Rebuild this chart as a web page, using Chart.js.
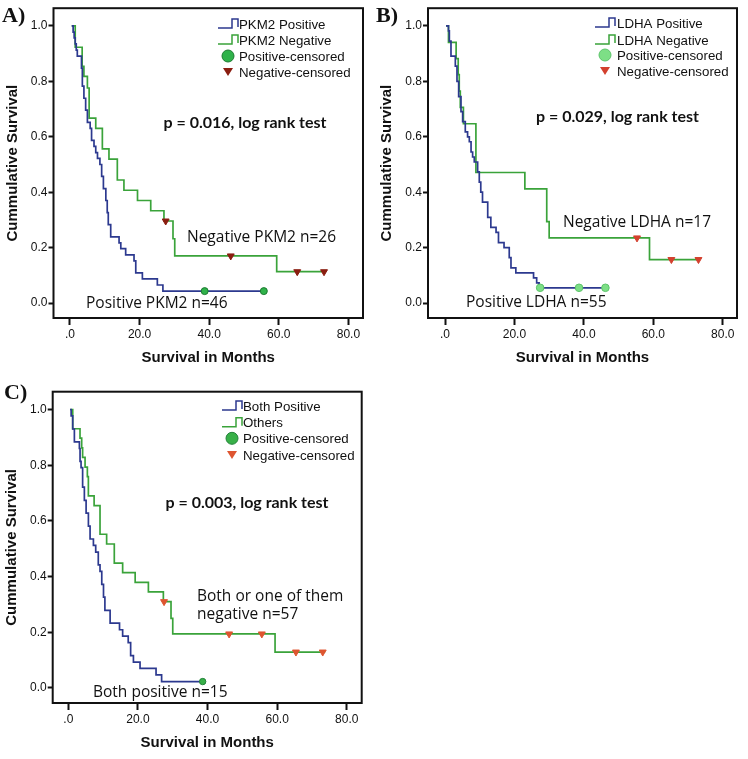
<!DOCTYPE html>
<html>
<head>
<meta charset="utf-8">
<script src="https://cdn.jsdelivr.net/npm/chart.js@4.4.0/dist/chart.umd.min.js"></script>
<style>
    body { margin: 0; background: #fff; }
    #wrap { position: relative; width: 748px; height: 759px; overflow: hidden; }
    canvas { position: absolute; }
    .tag { position: absolute; font: bold 22px "Liberation Serif", "Times New Roman", serif; color: #111; line-height: 24px; }
</style>
</head>
<body>
<div id="wrap">
    <canvas id="chartA" width="370" height="370" style="left:0;top:0"></canvas>
    <canvas id="chartB" width="378" height="370" style="left:370px;top:0"></canvas>
    <canvas id="chartC" width="370" height="389" style="left:0;top:370px"></canvas>
    <div class="tag" style="left:2px;top:3px">A)</div>
    <div class="tag" style="left:376px;top:3px">B)</div>
    <div class="tag" style="left:4px;top:380px">C)</div>
</div>

<script>
// ======================================================
// Data
// ======================================================

const monthTicks = [0, 20, 40, 60, 80];
const survivalTicks = [0, 0.2, 0.4, 0.6, 0.8, 1.0];

// A) PKM2
const pkm2PosMonths = [0.5, 0.9, 1.2, 1.5, 1.8, 2.1, 3.3, 3.55, 4.0, 4.5, 5.0, 5.8, 6.2, 6.9, 7.4, 7.9, 8.6, 9.1, 9.6, 10.3, 10.7, 11.0, 11.7, 14.1, 14.6, 16.0, 18.4, 18.9, 20.8, 25.1, 26.7, 55.7];
const pkm2PosSurvival = [1.0, 0.978, 0.957, 0.935, 0.913, 0.891, 0.848, 0.783, 0.739, 0.696, 0.652, 0.630, 0.587, 0.565, 0.543, 0.522, 0.500, 0.457, 0.413, 0.370, 0.326, 0.283, 0.239, 0.217, 0.196, 0.174, 0.152, 0.109, 0.087, 0.065, 0.043, 0.043];
const pkm2NegMonths = [0.5, 1.5, 3.5, 4.0, 5.0, 5.5, 7.4, 9.3, 11.2, 13.6, 15.5, 19.4, 23.2, 27.0, 29.6, 30.1, 59.4, 73.5];
const pkm2NegSurvival = [1.0, 0.923, 0.854, 0.818, 0.776, 0.667, 0.630, 0.556, 0.519, 0.444, 0.407, 0.370, 0.333, 0.296, 0.232, 0.170, 0.113, 0.113];
const pkm2PosCensMonths = [38.7, 55.7];
const pkm2PosCensSurvival = [0.043, 0.043];
const pkm2NegCensMonths = [27.5, 46.2, 65.3, 73.0];
const pkm2NegCensSurvival = [0.296, 0.170, 0.113, 0.113];

// B) LDHA
const ldhaPosMonths = [0.3, 1.0, 1.25, 1.72, 2.97, 3.45, 3.93, 4.6, 5.08, 5.84, 6.5, 7.0, 7.5, 7.95, 8.43, 9.4, 9.87, 10.3, 10.8, 12.3, 13.2, 14.7, 15.4, 17.0, 18.5, 19.0, 20.4, 25.5, 26.4, 27.1, 46.2];
const ldhaPosSurvival = [1.0, 0.982, 0.945, 0.891, 0.855, 0.800, 0.745, 0.691, 0.655, 0.618, 0.600, 0.582, 0.545, 0.527, 0.509, 0.473, 0.436, 0.400, 0.364, 0.309, 0.273, 0.255, 0.218, 0.200, 0.164, 0.127, 0.109, 0.091, 0.073, 0.055, 0.055];
const ldhaNegMonths = [0.3, 1.0, 3.2, 3.8, 4.1, 4.4, 5.3, 8.9, 23.0, 29.3, 30.0, 58.9, 73.0];
const ldhaNegSurvival = [1.0, 0.941, 0.882, 0.824, 0.765, 0.706, 0.647, 0.471, 0.412, 0.294, 0.235, 0.157, 0.157];
const ldhaPosCensMonths = [27.4, 38.6, 46.2];
const ldhaPosCensSurvival = [0.055, 0.055, 0.055];
const ldhaNegCensMonths = [55.3, 65.2, 73.0];
const ldhaNegCensSurvival = [0.235, 0.157, 0.157];

// C) Both positive vs others
const bothPosMonths = [0.5, 0.8, 1.25, 1.73, 3.17, 3.36, 3.65, 4.1, 4.6, 5.1, 5.76, 6.24, 7.2, 7.86, 8.6, 9.1, 9.6, 10.1, 10.5, 12.0, 14.7, 15.6, 17.2, 17.9, 18.7, 20.6, 25.2, 26.8, 38.6];
const bothPosSurvival = [1.0, 0.977, 0.930, 0.884, 0.860, 0.814, 0.791, 0.721, 0.674, 0.628, 0.581, 0.535, 0.512, 0.488, 0.442, 0.419, 0.372, 0.326, 0.279, 0.233, 0.209, 0.186, 0.163, 0.116, 0.093, 0.070, 0.047, 0.023, 0.023];
const othersMonths = [0.5, 1.25, 3.35, 3.83, 4.1, 4.8, 5.46, 5.75, 7.4, 9.1, 11.0, 13.2, 15.6, 19.2, 23.0, 27.3, 29.5, 30.0, 59.4, 73.8];
const othersSurvival = [1.0, 0.931, 0.897, 0.862, 0.828, 0.793, 0.759, 0.690, 0.655, 0.552, 0.517, 0.448, 0.414, 0.379, 0.345, 0.310, 0.250, 0.194, 0.129, 0.129];
const bothPosCensMonths = [38.6];
const bothPosCensSurvival = [0.023];
const othersCensMonths = [27.5, 46.2, 55.6, 65.4, 73.1];
const othersCensSurvival = [0.310, 0.194, 0.194, 0.129, 0.129];


// ======================================================
// Helpers
// ======================================================

const ink = "#111";
const blueLine = "#2c398f";
const greenLine = "#3aa33a";
const sans = "'Liberation Sans', Arial, sans-serif";

Chart.defaults.font.family = sans;
Chart.defaults.color = ink;

function toPoints(xs, ys) {
    return xs.map((x, i) => ({ x: x, y: ys[i] }));
}

// box around the plot, legend and text notes
const panelDecor = {

    id: "panelDecor",

    afterDraw(chart, args, opts) {

        const ctx = chart.ctx;
        const area = chart.chartArea;

        ctx.save();

        ctx.strokeStyle = ink;
        ctx.lineWidth = 2;
        ctx.strokeRect(area.left, area.top, area.right - area.left, area.bottom - area.top);

        //-----------------------------------------------------
        // Legend
        //-----------------------------------------------------

        const lg = opts.legend;

        ctx.font = "13.3px " + sans;
        ctx.textAlign = "left";
        ctx.textBaseline = "middle";

        lg.labels.forEach((label, i) => {

            const y = lg.rows[i];
            const x = lg.iconX;

            if (i < 2) {

                ctx.strokeStyle = i === 0 ? blueLine : greenLine;
                ctx.lineWidth = 1.5;
                ctx.beginPath();
                ctx.moveTo(x, y + 4);
                ctx.lineTo(x + 14, y + 4);
                ctx.lineTo(x + 14, y - 5);
                ctx.lineTo(x + 20, y - 5);
                ctx.lineTo(x + 20, y + 3);
                ctx.stroke();

            } else if (i === 2) {

                ctx.fillStyle = lg.circleColor;
                ctx.strokeStyle = lg.circleEdge;
                ctx.lineWidth = 1;
                ctx.beginPath();
                ctx.arc(x + 10, y, 6, 0, Math.PI * 2);
                ctx.fill();
                ctx.stroke();

            } else {

                ctx.fillStyle = lg.triangleColor;
                ctx.beginPath();
                ctx.moveTo(x + 5, y - 4);
                ctx.lineTo(x + 15, y - 4);
                ctx.lineTo(x + 10, y + 4);
                ctx.closePath();
                ctx.fill();

            }

            ctx.fillStyle = ink;
            ctx.fillText(label, lg.textX, y + 1);

        });

        //-----------------------------------------------------
        // Notes
        //-----------------------------------------------------

        opts.notes.forEach(n => {

            ctx.font = n.font;
            ctx.textAlign = n.align;
            ctx.fillStyle = ink;
            ctx.fillText(n.text, n.x, n.y);

        });

        ctx.restore();

    }

};


// ======================================================
// One Kaplan-Meier panel
// ======================================================

function drawPanel(id, p) {

    new Chart(document.getElementById(id), {

        type: "line",

        data: {

            datasets: [

                {
                    label: p.names[2],
                    data: toPoints(p.posCens[0], p.posCens[1]),
                    showLine: false,
                    pointStyle: "circle",
                    pointRadius: p.circleRadius,
                    backgroundColor: p.circleColor,
                    borderColor: p.circleEdge,
                    borderWidth: 1,
                    order: 0
                },

                {
                    label: p.names[3],
                    data: toPoints(p.negCens[0], p.negCens[1]),
                    showLine: false,
                    pointStyle: "triangle",
                    rotation: 180,
                    pointRadius: 4,
                    backgroundColor: p.triangleColor,
                    borderColor: p.triangleColor,
                    borderWidth: 1,
                    order: 0
                },

                {
                    label: p.names[0],
                    data: toPoints(p.pos[0], p.pos[1]),
                    stepped: true,
                    borderColor: blueLine,
                    borderWidth: 1.7,
                    pointRadius: 0,
                    fill: false,
                    order: 1
                },

                {
                    label: p.names[1],
                    data: toPoints(p.neg[0], p.neg[1]),
                    stepped: true,
                    borderColor: greenLine,
                    borderWidth: 1.7,
                    pointRadius: 0,
                    fill: false,
                    order: 1
                }

            ]

        },

        options: {

            responsive: false,
            animation: false,
            events: [],

            layout: {
                padding: { left: 0, top: p.padTop, right: p.padRight, bottom: 0 }
            },

            plugins: {

                legend: { display: false },
                tooltip: { enabled: false },

                panelDecor: {
                    legend: {
                        labels: p.names,
                        rows: p.legendRows,
                        iconX: p.legendIconX,
                        textX: p.legendTextX,
                        circleColor: p.circleColor,
                        circleEdge: p.circleEdge,
                        triangleColor: p.triangleColor
                    },
                    notes: p.notes
                }

            },

            scales: {

                x: {
                    type: "linear",
                    min: p.xMin,
                    max: p.xMax,
                    afterBuildTicks: s => { s.ticks = monthTicks.map(v => ({ value: v })); },
                    afterFit: s => { s.height = p.xAxisHeight; },
                    ticks: {
                        autoSkip: false,
                        maxRotation: 0,
                        padding: 2,
                        font: { size: 12 },
                        callback: v => v === 0 ? ".0" : v.toFixed(1)
                    },
                    grid: { drawOnChartArea: false, tickLength: 7, tickWidth: 2, tickColor: ink },
                    border: { display: false },
                    title: {
                        display: true,
                        text: "Survival in Months",
                        font: { size: 15, weight: "bold" },
                        padding: { top: 0, bottom: p.xTitlePad }
                    }
                },

                y: {
                    type: "linear",
                    min: -0.054,
                    max: 1.064,
                    afterBuildTicks: s => { s.ticks = survivalTicks.map(v => ({ value: v })); },
                    afterFit: s => { s.width = p.yAxisWidth; },
                    ticks: {
                        autoSkip: false,
                        padding: 1,
                        font: { size: 12 },
                        callback: v => v.toFixed(1)
                    },
                    grid: { drawOnChartArea: false, tickLength: 5, tickWidth: 2, tickColor: ink },
                    border: { display: false },
                    title: {
                        display: true,
                        text: "Cummulative Survival",
                        font: { size: 15, weight: "bold" },
                        padding: { top: p.yTitlePad, bottom: 0 }
                    }
                }

            }

        },

        plugins: [panelDecor]

    });

}


// ======================================================
// Panels
// ======================================================

const pFont = "bold 16px Lato, sans-serif";
const nFont = "15.5px 'Open Sans', sans-serif";

drawPanel("chartA", {
    names: ["PKM2 Positive", "PKM2 Negative", "Positive-censored", "Negative-censored"],
    pos: [pkm2PosMonths, pkm2PosSurvival],
    neg: [pkm2NegMonths, pkm2NegSurvival],
    posCens: [pkm2PosCensMonths, pkm2PosCensSurvival],
    negCens: [pkm2NegCensMonths, pkm2NegCensSurvival],
    circleColor: "#2fb24a", circleEdge: "#1c7a30", circleRadius: 3.5,
    triangleColor: "#8a1d10",
    xMin: -4.74, xMax: 84.2,
    padTop: 6, padRight: 7, yAxisWidth: 53.5, xAxisHeight: 52,
    xTitlePad: 3, yTitlePad: 4,
    legendRows: [24, 40, 56, 72], legendIconX: 218, legendTextX: 239,
    notes: [
        { text: "p = 0.016, log rank test", x: 245, y: 123, align: "center", font: pFont },
        { text: "Negative PKM2 n=26", x: 187, y: 238, align: "left", font: nFont },
        { text: "Positive PKM2 n=46", x: 86, y: 304, align: "left", font: nFont }
    ]
});

drawPanel("chartB", {
    names: ["LDHA Positive", "LDHA Negative", "Positive-censored", "Negative-censored"],
    pos: [ldhaPosMonths, ldhaPosSurvival],
    neg: [ldhaNegMonths, ldhaNegSurvival],
    posCens: [ldhaPosCensMonths, ldhaPosCensSurvival],
    negCens: [ldhaNegCensMonths, ldhaNegCensSurvival],
    circleColor: "#7ddf86", circleEdge: "#5cc46a", circleRadius: 3.8,
    triangleColor: "#d3402e",
    xMin: -4.9, xMax: 84.1,
    padTop: 6, padRight: 11, yAxisWidth: 58, xAxisHeight: 52,
    xTitlePad: 3, yTitlePad: 8,
    legendRows: [23, 40, 55, 71], legendIconX: 225, legendTextX: 247,
    notes: [
        { text: "p = 0.029, log rank test", x: 247.5, y: 117, align: "center", font: pFont },
        { text: "Negative LDHA n=17", x: 193, y: 223, align: "left", font: nFont },
        { text: "Positive LDHA n=55", x: 96, y: 303, align: "left", font: nFont }
    ]
});

drawPanel("chartC", {
    names: ["Both Positive", "Others", "Positive-censored", "Negative-censored"],
    pos: [bothPosMonths, bothPosSurvival],
    neg: [othersMonths, othersSurvival],
    posCens: [bothPosCensMonths, bothPosCensSurvival],
    negCens: [othersCensMonths, othersCensSurvival],
    circleColor: "#38b048", circleEdge: "#23823a", circleRadius: 3.2,
    triangleColor: "#de5530",
    xMin: -4.5, xMax: 84.3,
    padTop: 21.7, padRight: 8.3, yAxisWidth: 52.7, xAxisHeight: 56,
    xTitlePad: 7, yTitlePad: 3,
    legendRows: [36, 52.7, 68.3, 85], legendIconX: 222, legendTextX: 243,
    notes: [
        { text: "p = 0.003, log rank test", x: 247, y: 133, align: "center", font: pFont },
        { text: "Both or one of them", x: 197, y: 227, align: "left", font: nFont },
        { text: "negative n=57", x: 197, y: 245, align: "left", font: nFont },
        { text: "Both positive n=15", x: 93, y: 323, align: "left", font: nFont }
    ]
});
</script>
</body>
</html>
